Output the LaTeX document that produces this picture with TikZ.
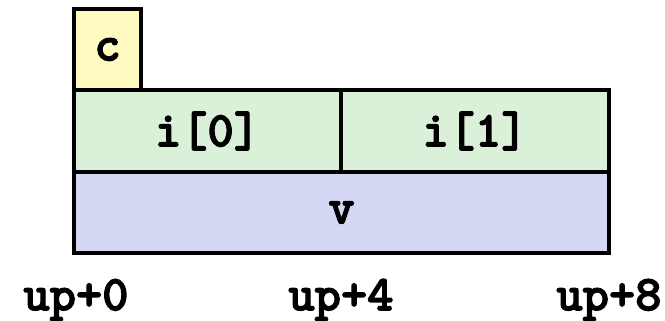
\documentclass[tikz,border=0pt]{standalone}
\usepackage{fontspec}
\newfontfamily\cour{lmmonolt10-bold.otf}[FakeBold=2.5]
\definecolor{cyel}{RGB}{255,250,192}
\definecolor{cgrn}{RGB}{218,240,216}
\definecolor{cblu}{RGB}{212,216,242}
\begin{document}
\begin{tikzpicture}[x=1pt,y=1pt,
  cell/.style={draw=black,line width=4pt,inner sep=0pt,font=\cour\fontsize{50}{50}\selectfont},
  lbl/.style={inner sep=0pt,font=\cour\fontsize{50}{50}\selectfont}]
\useasboundingbox (0,0) rectangle (665,321);
\node[cell,fill=cgrn,minimum width=267pt,minimum height=82pt] (i0) at (207.5,190) {i[0]};
\node[cell,fill=cgrn,minimum width=268pt,minimum height=82pt] (i1) at (475,190) {i[1]};
\node[cell,fill=cblu,minimum width=535pt,minimum height=81pt] (v) at (341.5,108.5) {v};
\node[cell,fill=cyel,minimum width=67pt,minimum height=81pt] (c) at (107.5,271.5) {c};
\node[lbl] (u0) at (76,21) {up+0};
\node[lbl] (u4) at (341,21) {up+4};
\node[lbl] (u8) at (609,21) {up+8};
\end{tikzpicture}
\end{document}
